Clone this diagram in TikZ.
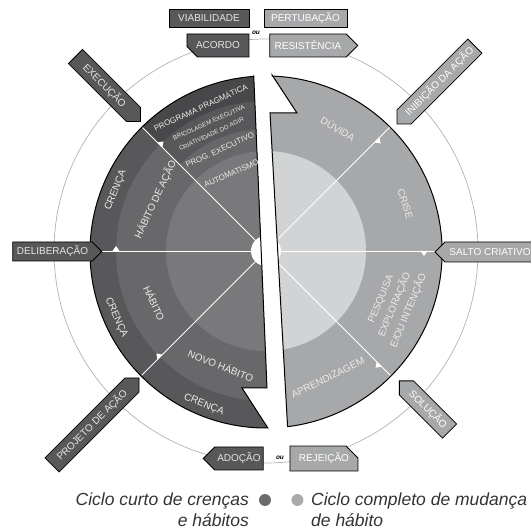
\documentclass[tikz,border=0pt]{standalone}
\usepackage{fontspec}
\setmainfont{Liberation Sans}
\usetikzlibrary{shapes.symbols,shapes.misc,positioning}

\definecolor{bandtop}{HTML}{48484A}
\definecolor{bandout}{HTML}{58585A}
\definecolor{bandmid}{HTML}{68686A}
\definecolor{bandin}{HTML}{79797B}
\definecolor{lightout}{HTML}{A7A8AA}
\definecolor{lightin}{HTML}{D2D3D5}
\definecolor{calldark}{HTML}{58585A}
\definecolor{calllight}{HTML}{A7A8AA}
\definecolor{legdark}{HTML}{6B6B6D}
\definecolor{leglight}{HTML}{AAABAD}

\begin{document}
\begin{tikzpicture}[x=1pt, y=1pt,
  lab/.style={text=white!92!black, inner sep=0pt, font=\fontsize{10}{12}\selectfont},
  smalllab/.style={lab, font=\fontsize{8}{9}\selectfont},
  tinylab/.style={lab, font=\fontsize{6.2}{7}\selectfont},
  callout/.style={draw, line width=0.8pt, inner sep=1pt, minimum height=20pt,
    font=\fontsize{10}{12}\selectfont},
  darkcall/.style={callout, fill=calldark, text=white!90!black},
  lightcall/.style={callout, fill=calllight, text=white},
  pointbox/.style={signal, signal pointer angle=90, signal to=#1},
  cutbox/.style={chamfered rectangle, chamfered rectangle corners=#1,
    chamfered rectangle xsep=6pt, chamfered rectangle ysep=6pt},
  ou/.style={fill=white, inner sep=1pt, font=\fontsize{6.5}{7}\selectfont\bfseries\itshape},
  legtext/.style={inner sep=0pt, text=black!80, font=\fontsize{17.5}{21}\selectfont\itshape},
  legdot/.style={circle, minimum size=12pt, inner sep=0pt}
]
\useasboundingbox (-266,-279) rectangle (265,251);

% outer ring
\draw[gray!60, line width=0.7pt] (0,0) circle[radius=212];

% corners of the two halves
\coordinate (ltop) at (94:176);
\coordinate (lcut) at (1,-137);
\coordinate (lnotch) at (-24,-137);
\coordinate (lbot) at (-89.4:177);
\coordinate (rtop) at (88:176);
\coordinate (rnotch) at (31,138);
\coordinate (rcut) at (4,138);
\coordinate (rbot) at (-83:177);

% short cycle (left half)
\begin{scope}
  \clip (ltop) -- (lcut) -- (lnotch) -- (lbot) arc[start angle=270.6, end angle=94, radius=176] -- cycle;
  \fill[bandout] (0,0) circle[radius=180];
  \fill[bandmid] (0,0) circle[radius=150];
  \fill[bandtop] (0,0) -- (135:180) arc[start angle=135, end angle=80, radius=180] -- cycle;
  \fill[bandout] (0,0) -- (135:150) arc[start angle=135, end angle=80, radius=150] -- cycle;
  \fill[bandmid] (0,0) -- (135:122) arc[start angle=135, end angle=80, radius=122] -- cycle;
  \fill[bandin] (0,0) circle[radius=100];
\end{scope}
% full cycle (right half)
\begin{scope}
  \clip (rtop) -- (rnotch) -- (rcut) -- (rbot) arc[start angle=-83, end angle=88, radius=176] -- cycle;
  \fill[lightout] (0,0) circle[radius=180];
  \fill[lightin] (0,0) circle[radius=100];
\end{scope}

% spokes with flow marks
\foreach \a in {0,45,135,180,225,315}
  \draw[white, line width=0.8pt] (0,0) -- (\a:176);
\foreach \a/\r in {0/158,45/157,135/150,180/150,225/150,315/160}
  \fill[white, rotate=\a] (\r-3.5,0) -- (\r+3.5,0) -- (\r,-5) -- cycle;
\fill[white] (0,0) circle[radius=15];

\draw[line width=1pt] (ltop) -- (lcut) -- (lnotch) -- (lbot) arc[start angle=270.6, end angle=94, radius=176] -- cycle;
\draw[line width=1pt] (rtop) -- (rnotch) -- (rcut) -- (rbot) arc[start angle=-83, end angle=88, radius=176] -- cycle;

% labels on the disk
\node[lab, rotate=68] (crencaA) at (158:162) {CRENÇA};
\node[lab, rotate=65] (habacao) at (155:122) {HÁBITO DE AÇÃO};
\node[lab, rotate=-65] (habito) at (205:123) {HÁBITO};
\node[lab, rotate=-66] (crencaB) at (204:164) {CRENÇA};
\node[lab, rotate=-21.5] (novo) at (248.5:123) {NOVO HÁBITO};
\node[lab, rotate=-22] (crencaC) at (248:166) {CRENÇA};
\node[smalllab, rotate=24.5] (programa) at (114.5:158) {PROGRAMA PRAGMÁTICA};
\node[tinylab, rotate=24] (bricol) at (114:140.5) {BRICOLAGEM EXECUTIVA};
\node[tinylab, rotate=25] (criat) at (115:129) {CRIATIVIDADE DO AGIR};
\node[smalllab, rotate=24.5] (progexec) at (114.5:111) {PROG. EXECUTIVO};
\node[smalllab, rotate=24] (automat) at (114:85) {AUTOMATISMO};
\node[lab, rotate=-30.5] (duvida) at (59.5:142) {DÚVIDA};
\node[lab, rotate=-71.3] (crise) at (18.7:147) {CRISE};
\node[lab, rotate=67.3, align=center, font=\fontsize{10}{15}\selectfont] (pesquisa) at (-22.7:140) {PESQUISA\\EXPLORAÇÃO\\E/OU INTENÇÃO};
\node[lab, rotate=26] (aprend) at (-64:141) {APRENDIZAGEM};

% callouts on the ring
\node[darkcall, minimum width=80pt, minimum height=18pt] (viab) at (-57,232.5) {VIABILIDADE};
\node[darkcall, cutbox=south west, minimum width=62pt, minimum height=23pt] (acordo) at (-48,205.5) {ACORDO};
\node[lightcall, minimum width=83pt, minimum height=18pt] (pertub) at (39.5,232.5) {PERTUBAÇÃO};
\node[lightcall, pointbox=east, minimum width=88pt, minimum height=23pt] (resist) at (42,205.5) {RESISTÊNCIA};
\node[ou] (outop) at (-10,218) {ou};
\node[darkcall, pointbox=east, minimum width=89pt, minimum height=19pt] (delib) at (-213.5,-0.5) {DELIBERAÇÃO};
\node[lightcall, pointbox=west, minimum width=100pt] (salto) at (224,-1) {SALTO CRIATIVO};
\node[darkcall, pointbox=east, rotate=-45, minimum width=92pt] (exec) at (-161.5,165.5) {EXECUÇÃO};
\node[lightcall, pointbox=west, rotate=45, minimum width=110pt] (inib) at (173.5,169.5) {INIBIÇÃO DA AÇÃO};
\node[darkcall, pointbox=east, rotate=45, minimum width=123pt] (projeto) at (-174,-174) {PROJETO DE AÇÃO};
\node[lightcall, pointbox=west, rotate=-45, minimum width=71pt] (solucao) at (162,-158.5) {SOLUÇÃO};
\node[darkcall, pointbox=west, minimum width=60pt, minimum height=23pt] (adocao) at (-27,-207.5) {ADOÇÃO};
\node[ou] (oubot) at (14,-207) {ou};
\node[lightcall, cutbox=north east, minimum width=68pt, minimum height=23pt] (rejeicao) at (58,-207.5) {REJEIÇÃO};

% legend
\node[legdot, fill=legdark] (dotshort) at (-1,-249) {};
\node[legdot, fill=leglight, right=20pt of dotshort] (dotfull) {};
\node[legtext, align=right, anchor=north east] (txtshort) at (-17,-241.7) {Ciclo curto de crenças\\e hábitos};
\node[legtext, align=left, anchor=north west] (txtfull) at (45,-241.7) {Ciclo completo de mudança\\de hábito};
\end{tikzpicture}
\end{document}
